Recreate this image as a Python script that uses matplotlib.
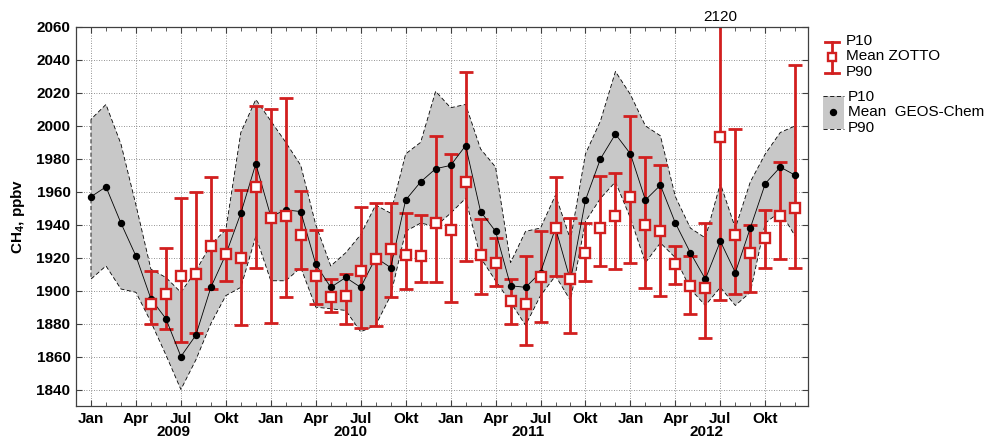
import numpy as np
import matplotlib
matplotlib.use('Agg')
from matplotlib import pyplot as plt
from matplotlib.patches import Rectangle

plt.rcParams['font.family'] = ['Liberation Sans', 'DejaVu Sans']
plt.rcParams['mathtext.fontset'] = 'custom'
plt.rcParams['mathtext.rm'] = 'Liberation Sans'
plt.rcParams['mathtext.bf'] = 'Liberation Sans:bold'

#Données (ppbv), mois de Jan 2009 à Déc 2012
mois_noms = ['Jan', 'Apr', 'Jul', 'Okt']
annees = ['2009', '2010', '2011', '2012']

#GEOS-Chem : moyenne, P90 (haut) et P10 (bas)
geos_mean = [1957, 1963, 1941, 1921, 1895, 1883, 1860, 1873, 1902, 1922, 1947, 1977,
             1945, 1949, 1948, 1916, 1902, 1908, 1902, 1920, 1914, 1955, 1966, 1974,
             1976, 1988, 1948, 1936, 1903, 1902, 1911, 1938, 1906, 1955, 1980, 1995,
             1983, 1955, 1964, 1941, 1923, 1907, 1930, 1911, 1938, 1965, 1975, 1970]
geos_p90 = [2004, 2013, 1989, 1952, 1913, 1908, 1899, 1912, 1928, 1937, 1996, 2016,
            2003, 1990, 1976, 1940, 1915, 1923, 1934, 1952, 1947, 1983, 1990, 2021,
            2011, 2013, 1986, 1975, 1917, 1936, 1938, 1958, 1931, 1983, 2003, 2033,
            2019, 2000, 1994, 1957, 1938, 1932, 1965, 1938, 1966, 1983, 1996, 2000]
geos_p10 = [1907, 1915, 1901, 1899, 1881, 1861, 1840, 1858, 1880, 1897, 1902, 1933,
            1906, 1906, 1914, 1890, 1889, 1888, 1875, 1879, 1897, 1936, 1941, 1939,
            1947, 1956, 1920, 1906, 1893, 1879, 1897, 1909, 1894, 1942, 1956, 1966,
            1944, 1917, 1929, 1920, 1901, 1891, 1902, 1891, 1899, 1941, 1948, 1933]

#ZOTTO : commence en Mai 2009
zotto_debut = 4
zotto_mean = [1892, 1898, 1909, 1910, 1927, 1922, 1920, 1963,
              1944, 1945, 1934, 1909, 1896, 1897, 1912, 1919, 1925, 1921.5, 1921, 1941,
              1937, 1966, 1921.5, 1917, 1894, 1892, 1908, 1938, 1907, 1923, 1938, 1945,
              1957, 1940, 1936, 1916, 1903, 1901.5, 1993, 1934, 1923, 1932, 1945, 1950]
zotto_p90 = [1912, 1926, 1956, 1960, 1969, 1937, 1961, 2012,
             2010, 2017, 1960.5, 1937, 1907, 1910, 1951, 1953, 1953, 1947, 1946, 1994,
             1983, 2032.5, 1943.5, 1932, 1907, 1921, 1936, 1969, 1944, 1941, 1969.5, 1971.5,
             2006, 1981, 1976, 1927, 1921, 1941, 2120, 1998, 1940, 1949, 1978, 2037]
zotto_p10 = [1880, 1877, 1869, 1874, 1901, 1906, 1879, 1914,
             1880.5, 1896, 1913, 1892, 1887, 1880, 1877.5, 1878.5, 1896, 1901, 1905, 1905,
             1893, 1918, 1898, 1903, 1880, 1867, 1881, 1909, 1874, 1906, 1915, 1913,
             1917, 1901.5, 1897, 1904, 1886, 1871, 1894.5, 1898, 1899, 1914, 1919, 1914]

ROUGE = '#D21F1F'
GRIS = '#C8C8C8'
W, H = 985, 440
FS = 11

fig = plt.figure(figsize=(W/100, H/100), dpi=100)
#Position des axes en pixels : gauche 76, droite 808, haut 27, bas 406
ax = fig.add_axes([76/W, (H-406)/H, (808-76)/W, (406-27)/H])

x = np.arange(len(geos_mean))
xz = np.arange(zotto_debut, zotto_debut + len(zotto_mean))
zm = np.array(zotto_mean)
zp90 = np.array(zotto_p90)
zp10 = np.array(zotto_p10)

#Bande GEOS-Chem
ax.fill_between(x, geos_p10, geos_p90, facecolor=GRIS, edgecolor='k',
                linestyle=(0, (5, 3)), linewidth=0.6, zorder=1)
#Barres d'erreur ZOTTO
ax.errorbar(xz, zm, yerr=[zm - zp10, zp90 - zm], fmt='none', ecolor=ROUGE,
            elinewidth=2.0, capsize=5, capthick=2.0, zorder=2)
#Moyenne GEOS-Chem
ax.plot(x, geos_mean, '-', color='k', linewidth=0.6, zorder=3)
ax.plot(x, geos_mean, 'o', color='k', markersize=4.3, zorder=3)
#Moyenne ZOTTO
ax.plot(xz, zm, 's', markersize=7, markerfacecolor='white', markeredgecolor=ROUGE,
        markeredgewidth=1.7, zorder=4)

#Valeur hors cadre
imax = int(np.argmax(zp90))
ax.annotate(str(int(zp90[imax])), xy=(xz[imax], 1), xycoords=('data', 'axes fraction'),
            xytext=(0, 7.5), textcoords='offset points', ha='center', va='center',
            fontsize=FS, annotation_clip=False)

#Axes
ax.set_xlim(-1, 47.85)
ax.set_ylim(1830, 2060)
ax.set_yticks(np.arange(1840, 2061, 20))
ax.set_yticklabels([str(v) for v in range(1840, 2061, 20)], fontweight='bold', fontsize=FS)
xt = np.arange(0, len(geos_mean), 3)
ax.set_xticks(xt)
ax.set_xticklabels([mois_noms[(i // 3) % 4] for i in xt], fontweight='bold', fontsize=FS)
ax.set_xticks(x, minor=True)
ax.tick_params(which='both', direction='in', top=True, right=True, color='#404040')
ax.tick_params(which='major', length=4, pad=4)
ax.tick_params(which='minor', length=3)
ax.grid(True, which='major', linestyle=(0, (1, 2)), color='#707070', linewidth=0.6)
ax.set_axisbelow(True)
for s in ax.spines.values():
  s.set_color('#404040')
  s.set_linewidth(0.9)

#Années sous les mois
for k in range(len(annees)):
  ax.annotate(annees[k], xy=(5.5 + 11.85*k, 0), xycoords=('data', 'axes fraction'),
              xytext=(0, -19), textcoords='offset points', ha='center', va='center',
              fontsize=FS, fontweight='bold', annotation_clip=False)

ax.set_ylabel(r'CH$_\mathbf{4}$, ppbv', fontweight='bold', fontsize=FS, labelpad=7)

#Légende dessinée à la main (coordonnées en pixels)
lg = fig.add_axes([810/W, 0, (W-810)/W, 1])
lg.set_xlim(810, W)
lg.set_ylim(H, 0)
lg.axis('off')
lg.plot([832, 832], [42, 73], color=ROUGE, linewidth=2.0)
lg.plot([825, 839], [42, 42], color=ROUGE, linewidth=2.0)
lg.plot([825, 839], [73, 73], color=ROUGE, linewidth=2.0)
lg.plot([832], [57], 's', markersize=5.5, markerfacecolor='white', markeredgecolor=ROUGE,
        markeredgewidth=1.7)
lg.text(846, 41, 'P10', fontsize=FS, va='center', ha='left')
lg.text(846, 56, 'Mean ZOTTO', fontsize=FS, va='center', ha='left')
lg.text(846, 72, 'P90', fontsize=FS, va='center', ha='left')

lg.add_patch(Rectangle((823, 96), 21, 33, facecolor=GRIS, edgecolor='none'))
lg.plot([823, 844], [96, 96], color='k', linestyle=(0, (5, 3)), linewidth=0.6)
lg.plot([823, 844], [129, 129], color='k', linestyle=(0, (5, 3)), linewidth=0.6)
lg.plot([833], [112], 'o', color='k', markersize=4.3)
lg.text(848, 97, 'P10', fontsize=FS, va='center', ha='left')
lg.text(848, 112, 'Mean  GEOS-Chem', fontsize=FS, va='center', ha='left')
lg.text(848, 128, 'P90', fontsize=FS, va='center', ha='left')

fig.savefig('out.png', dpi=100)
